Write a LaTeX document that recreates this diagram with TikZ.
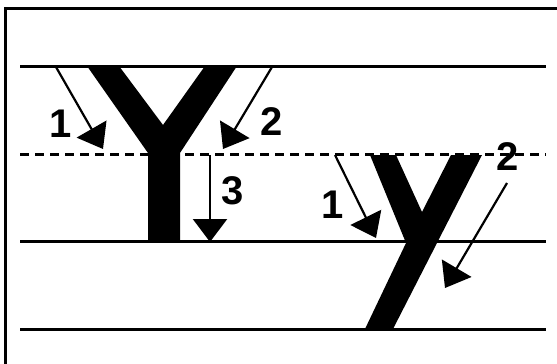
\documentclass[tikz,border=0pt]{standalone}
\usepackage{fontspec}
\setmainfont{Liberation Sans}
\usetikzlibrary{arrows.meta}
\tikzset{
  guide/.style={line width=3pt},
  midguide/.style={line width=2.2pt, dash pattern=on 9pt off 6pt},
  framel/.style={line width=3pt},
  strokearrow/.style={line width=2.2pt, -{Triangle[length=23pt,width=34pt]}},
  num/.style={font=\fontsize{40}{40}\selectfont\bfseries, inner sep=0pt},
  letter/.style={fill=black, draw=none}
}
\begin{document}
\begin{tikzpicture}[x=1pt,y=-1pt]
\useasboundingbox (0,0) rectangle (557,364);
% frame (top and left visible)
\coordinate (f1) at (5.5,364);
\coordinate (f2) at (5.5,8);
\coordinate (f3) at (557,8);
\draw[framel] (f1) -- (f2) -- (f3);
% guide lines
\coordinate (t1) at (20,66);  \coordinate (t2) at (546,66);
\coordinate (m1) at (20,154.5); \coordinate (m2) at (546,154.5);
\coordinate (b1) at (20,241); \coordinate (b2) at (546,241);
\coordinate (d1) at (20,329); \coordinate (d2) at (546,329);
\draw[guide] (t1) -- (t2);
\draw[midguide] (m1) -- (m2);
\draw[guide] (b1) -- (b2);
\draw[guide] (d1) -- (d2);
% capital Y
\fill[letter] (87,66) -- (119,66) -- (163,125) -- (205,66) -- (237,66)
  -- (180,153) -- (180,240) .. controls (180,243) and (148,243) .. (148,240)
  -- (148,153) -- cycle;
% small y
\fill[letter] (370,155) -- (396,155) -- (422,212) -- (451,155) -- (482,155)
  -- (393,329) -- (365,329) -- (406,243) -- cycle;
% arrows for Y
\coordinate (a1s) at (56,67);  \coordinate (a1e) at (103,149);
\coordinate (a2s) at (272,67); \coordinate (a2e) at (223,149);
\coordinate (a3s) at (210,155); \coordinate (a3e) at (210,242);
\draw[strokearrow] (a1s) -- (a1e);
\draw[strokearrow] (a2s) -- (a2e);
\draw[strokearrow] (a3s) -- (a3e);
\node[num] (n1) at (61,124) {1};
\node[num] (n2) at (272,122) {2};
\node[num] (n3) at (233,191) {3};
% arrows for y
\coordinate (b1s) at (335,155); \coordinate (b1e) at (376,238);
\coordinate (b2s) at (507,183); \coordinate (b2e) at (445,288);
\draw[strokearrow] (b1s) -- (b1e);
\draw[strokearrow] (b2s) -- (b2e);
\node[num] (s1) at (333,205) {1};
\node[num] (s2) at (508,157) {2};
\end{tikzpicture}
\end{document}
